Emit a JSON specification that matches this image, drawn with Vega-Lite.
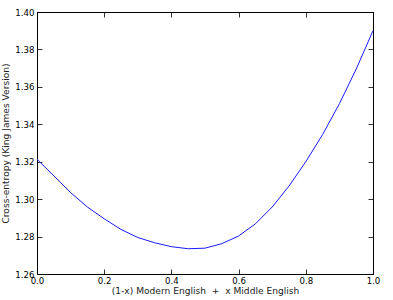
{
  "$schema": "https://vega.github.io/schema/vega-lite/v6.json",
  "width": 336,
  "height": 262,
  "autosize": {"type": "none"},
  "padding": {"left": 37, "top": 12, "right": 20, "bottom": 26},
  "background": "white",
  "config": {
    "font": "DejaVu Sans",
    "view": {"stroke": "black", "strokeWidth": 1},
    "axis": {
      "grid": false,
      "domainColor": "black",
      "domainWidth": 1,
      "tickColor": "black",
      "tickSize": -5,
      "tickWidth": 0.8,
      "labelFlush": false,
      "labelFont": "DejaVu Sans",
      "labelFontSize": 8.6,
      "labelColor": "black",
      "titleFont": "DejaVu Sans",
      "titleFontSize": 9.1,
      "titleFontWeight": "normal",
      "titleColor": "#222222"
    }
  },
  "data": {
    "values": [
      {"x": 0.0, "ce": 1.3213},
      {"x": 0.05, "ce": 1.3125},
      {"x": 0.1, "ce": 1.3035},
      {"x": 0.15, "ce": 1.2958},
      {"x": 0.2, "ce": 1.2895},
      {"x": 0.25, "ce": 1.2838},
      {"x": 0.3, "ce": 1.2795},
      {"x": 0.35, "ce": 1.2767},
      {"x": 0.4, "ce": 1.2746},
      {"x": 0.45, "ce": 1.2735},
      {"x": 0.5, "ce": 1.2738},
      {"x": 0.55, "ce": 1.2762},
      {"x": 0.6, "ce": 1.2803},
      {"x": 0.65, "ce": 1.2868},
      {"x": 0.7, "ce": 1.2958},
      {"x": 0.75, "ce": 1.307},
      {"x": 0.8, "ce": 1.32},
      {"x": 0.85, "ce": 1.3345},
      {"x": 0.9, "ce": 1.351},
      {"x": 0.95, "ce": 1.3695},
      {"x": 1.0, "ce": 1.39}
    ]
  },
  "layer": [
    {
      "mark": {"type": "line", "color": "#1a1aff", "strokeWidth": 1},
      "encoding": {
        "x": {"field": "x", "type": "quantitative", "scale": {"domain": [0, 1], "nice": false},
              "axis": {"values": [0, 0.2, 0.4, 0.6, 0.8, 1.0], "format": ".1f", "title": "(1-x) Modern English \u00a0+\u00a0 x Middle English", "labelPadding": 7, "titlePadding": 2}},
        "y": {"field": "ce", "type": "quantitative", "scale": {"domain": [1.26, 1.40], "nice": false, "zero": false},
              "axis": {"values": [1.26, 1.28, 1.30, 1.32, 1.34, 1.36, 1.38, 1.40], "format": ".2f", "title": "Cross-entropy (King James Version)", "labelPadding": 8, "titlePadding": 4}}
      }
    },
    {
      "mark": {"type": "line", "strokeOpacity": 0},
      "encoding": {
        "x": {"field": "x", "type": "quantitative", "scale": {"domain": [0, 1], "nice": false},
              "axis": {"orient": "top", "values": [0, 0.2, 0.4, 0.6, 0.8, 1.0], "labels": false, "title": null}},
        "y": {"field": "ce", "type": "quantitative", "scale": {"domain": [1.26, 1.40], "nice": false, "zero": false},
              "axis": {"orient": "right", "values": [1.26, 1.28, 1.30, 1.32, 1.34, 1.36, 1.38, 1.40], "labels": false, "title": null}}
      }
    }
  ],
  "resolve": {"axis": {"x": "independent", "y": "independent"}}
}
